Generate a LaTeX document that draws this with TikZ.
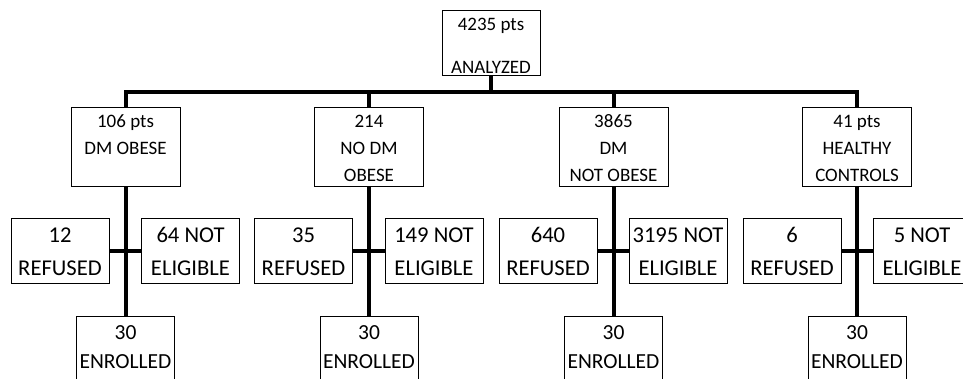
\documentclass[tikz,border=0pt]{standalone}
\usepackage{fontspec}
\setmainfont{Carlito}
\begin{document}
\begin{tikzpicture}[x=1pt,y=-1pt,
  box/.style={draw=black, line width=1pt, inner sep=0pt, fill=white},
  topbox/.style={box, minimum width=98pt, minimum height=65pt},
  midbox/.style={box, minimum width=109pt, minimum height=79pt},
  smallbox/.style={box, minimum width=98pt, minimum height=64pt},
  enrbox/.style={box, minimum width=98pt, minimum height=100pt},
  conn/.style={line width=4pt},
  ts/.style={font=\fontsize{19}{21}\selectfont, anchor=base, inner sep=0pt},
  tl/.style={font=\fontsize{22.6}{24}\selectfont, anchor=base, inner sep=0pt},
  te/.style={font=\fontsize{21.5}{24}\selectfont, anchor=base, inner sep=0pt}]
\useasboundingbox (0,0) rectangle (963,379);
\clip (0,0) rectangle (963,379);

% boxes
\node[topbox] (top) at (491,43.5) {};
\node[midbox] (m1) at (125.5,147.5) {};
\node[midbox] (m2) at (369,147.5) {};
\node[midbox] (m3) at (613.5,147.5) {};
\node[midbox] (m4) at (857,147.5) {};

\node[smallbox] (r1) at (60,251) {};
\node[smallbox] (r2) at (303.5,251) {};
\node[smallbox] (r3) at (548,251) {};
\node[smallbox] (r4) at (792,251) {};
\node[smallbox] (n1) at (190.5,251) {};
\node[smallbox] (n2) at (434,251) {};
\node[smallbox] (n3) at (678,251) {};
\node[smallbox] (n4) at (922,251) {};

\node[enrbox] (e1) at (125.5,366) {};
\node[enrbox] (e2) at (369,366) {};
\node[enrbox] (e3) at (613.5,366) {};
\node[enrbox] (e4) at (857,366) {};

% connectors
\coordinate (bus) at (491,92);
\draw[conn] (top.south) -- (bus);
\draw[conn] (m1.north) -- (m1.north |- bus) -- (m4.north |- bus) -- (m4.north);
\draw[conn] (m2.north) -- (m2.north |- bus);
\draw[conn] (m3.north) -- (m3.north |- bus);
\foreach \i in {1,2,3,4}{
  \draw[conn] (m\i.south) -- (e\i.north);
  \draw[conn] (r\i.east) -- (n\i.west);
}

% texts
\node[ts] (t0a) at (491,31) {4235 pts};
\node[ts] (t0b) at (491,74) {ANALYZED};

\node[ts] (t1a) at (125.5,128) {106 pts};
\node[ts] (t1b) at (125.5,155) {DM OBESE};

\node[ts] (t2a) at (369,128) {214};
\node[ts] (t2b) at (369,155) {NO DM};
\node[ts] (t2c) at (369,182) {OBESE};

\node[ts] (t3a) at (613.5,128) {3865};
\node[ts] (t3b) at (613.5,155) {DM};
\node[ts] (t3c) at (613.5,182) {NOT OBESE};

\node[ts] (t4a) at (857,128) {41 pts};
\node[ts] (t4b) at (857,155) {HEALTHY};
\node[ts] (t4c) at (857,182) {CONTROLS};

\node[tl] (tr1a) at (60,243) {12};
\node[tl] (tr2a) at (303.5,243) {35};
\node[tl] (tr3a) at (548,243) {640};
\node[tl] (tr4a) at (792,243) {6};
\foreach \x/\k in {60/1,303.5/2,548/3,792/4}{
  \node[tl] (tr\k b) at (\x,275) {REFUSED};
}
\node[tl] (tn1a) at (190.5,243) {64 NOT};
\node[tl] (tn2a) at (434,243) {149 NOT};
\node[tl] (tn3a) at (678,243) {3195 NOT};
\node[tl] (tn4a) at (922,243) {5 NOT};
\foreach \x/\k in {190.5/1,434/2,678/3,922/4}{
  \node[tl] (tn\k b) at (\x,275) {ELIGIBLE};
}
\foreach \x/\k in {125.5/1,369/2,613.5/3,857/4}{
  \node[te] (te\k a) at (\x,339) {30};
  \node[te] (te\k b) at (\x,368) {ENROLLED};
}
\end{tikzpicture}
\end{document}
